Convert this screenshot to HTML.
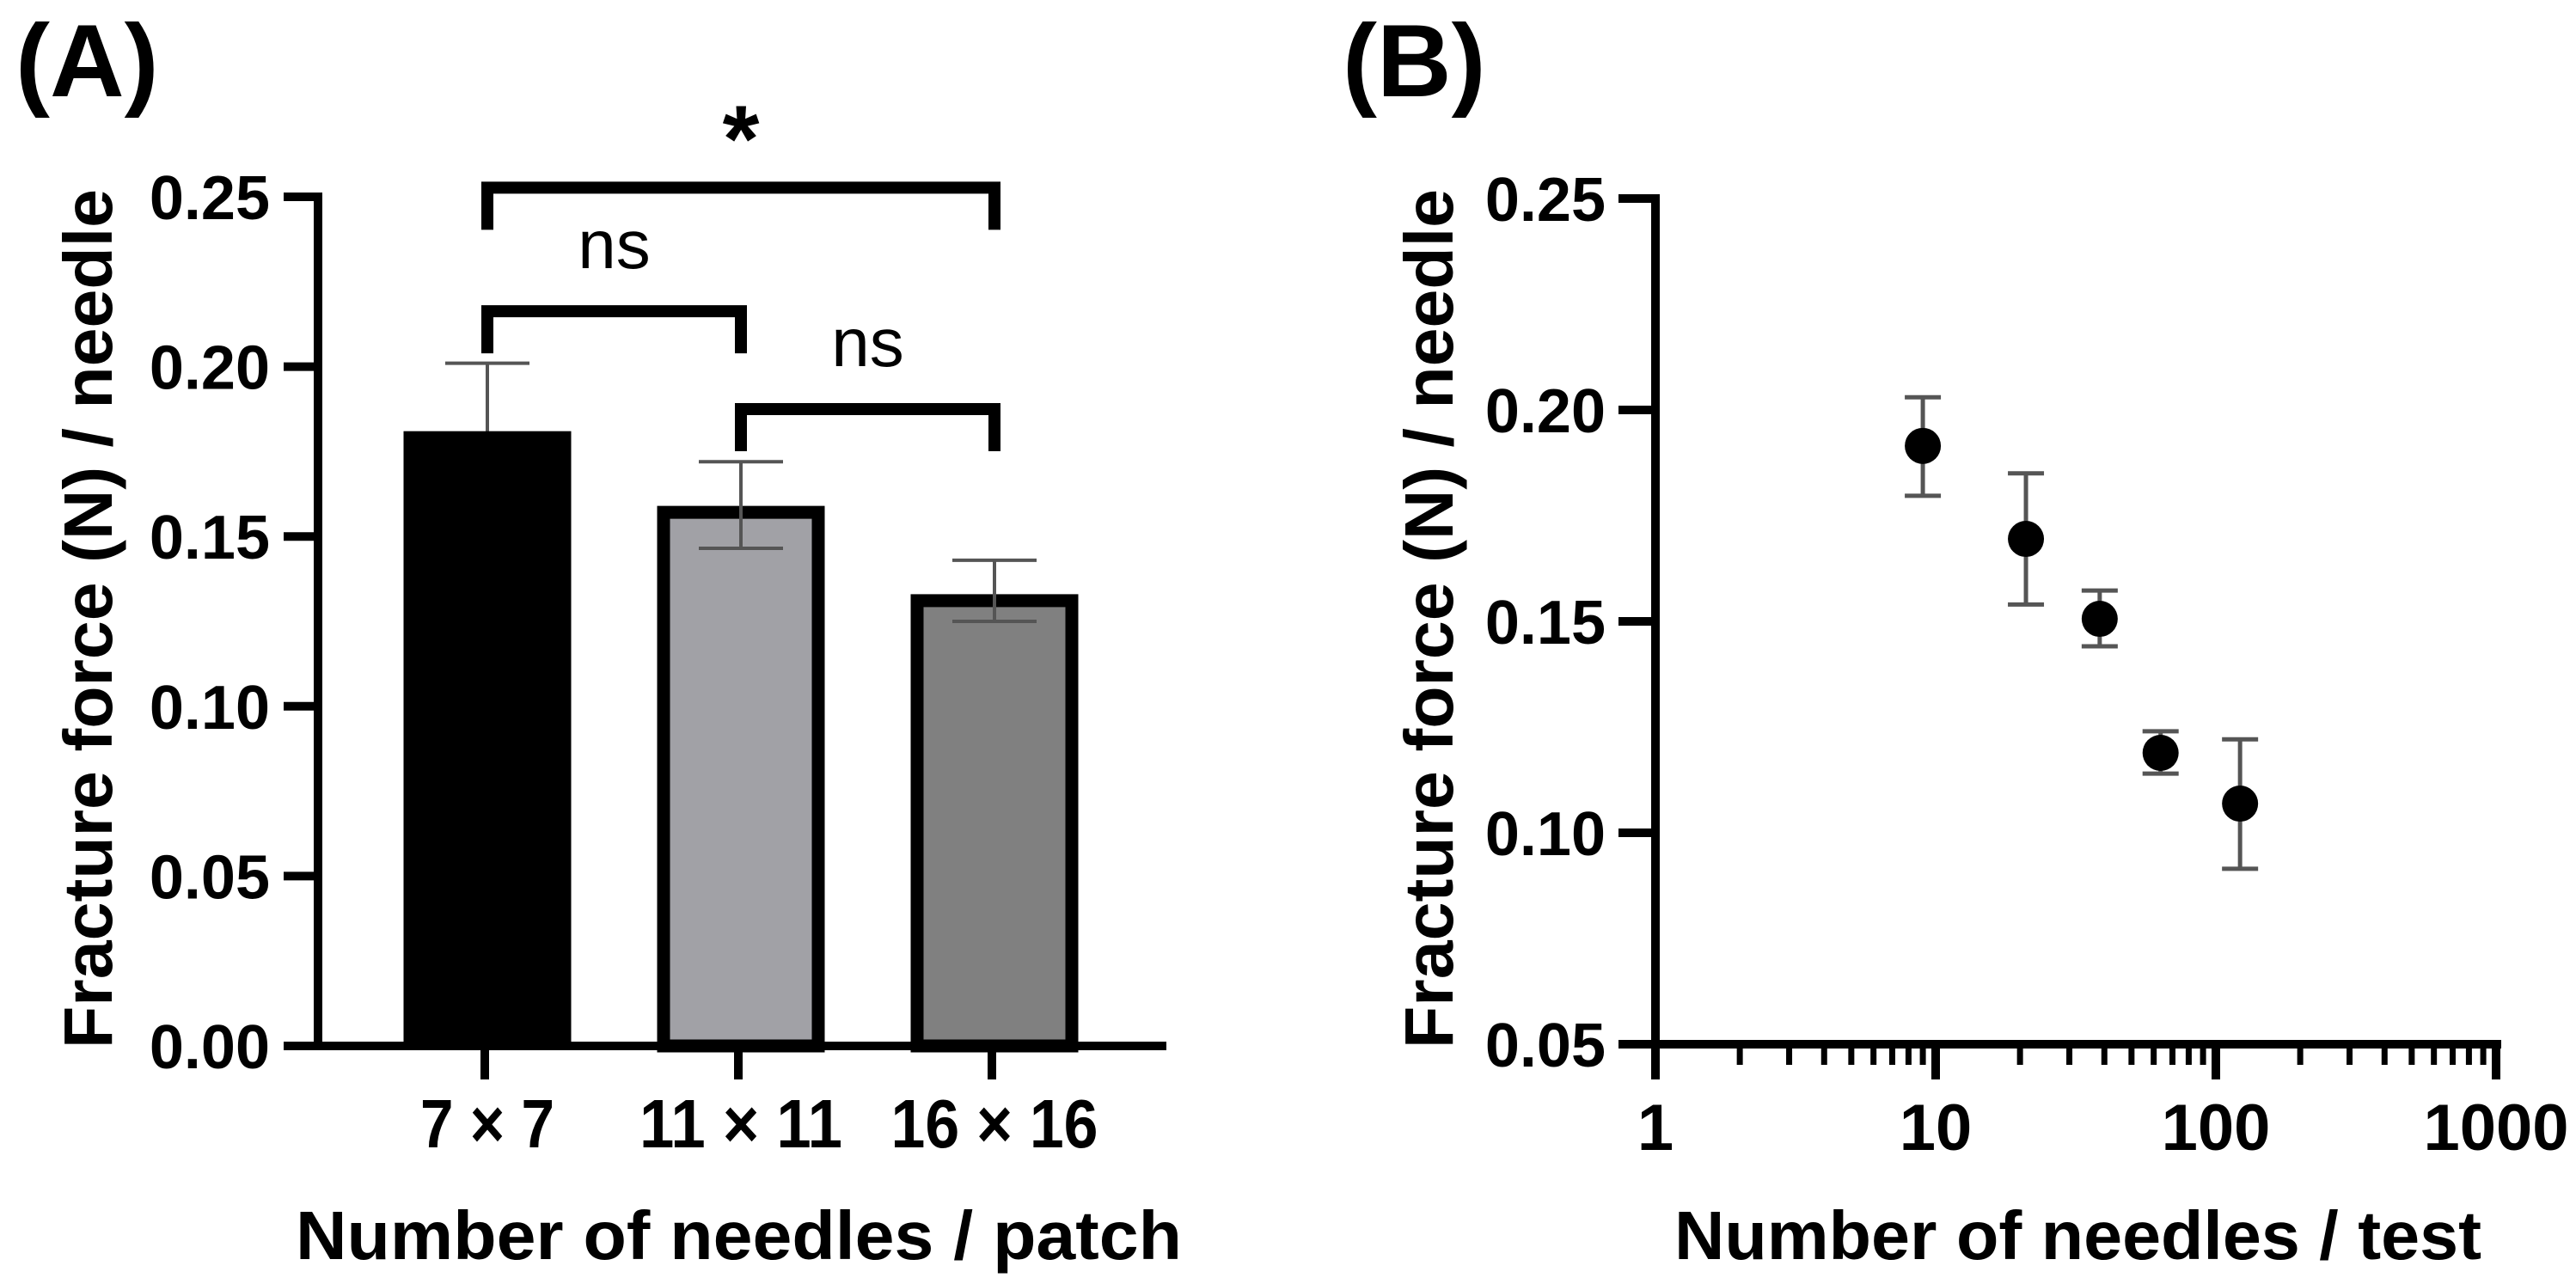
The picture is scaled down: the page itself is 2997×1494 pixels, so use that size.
<!DOCTYPE html>
<html><head><meta charset="utf-8"><style>
html,body{margin:0;padding:0;background:#fff;}
svg{display:block;font-family:"Liberation Sans",Arial,sans-serif;}
</style></head><body>
<svg id="fig" width="2997" height="1494" viewBox="0 0 2997 1494" xmlns="http://www.w3.org/2000/svg">
<text x="18" y="112" font-size="120" font-weight="bold">(A)</text>
<text x="1562" y="112" font-size="120" font-weight="bold">(B)</text>
<g id="pa"></g>
<g id="pb"></g>
<text transform="translate(130,720) rotate(-90)" text-anchor="middle" font-size="80" font-weight="bold" textLength="1000" lengthAdjust="spacingAndGlyphs">Fracture force (N) / needle</text>
<text transform="translate(1690,720) rotate(-90)" text-anchor="middle" font-size="80" font-weight="bold" textLength="1000" lengthAdjust="spacingAndGlyphs">Fracture force (N) / needle</text>
<text x="344" y="1465" font-size="80" font-weight="bold" textLength="1031" lengthAdjust="spacingAndGlyphs">Number of  needles / patch</text>
<text x="1948" y="1465" font-size="80" font-weight="bold" textLength="939" lengthAdjust="spacingAndGlyphs">Number of needles / test</text>
</svg>
<script>
// Panel A data
const catsA = ["7 × 7", "11 × 11", "16 × 16"];
const meansA = [0.181, 0.159, 0.133];
const upperA = [0.201, 0.172, 0.143];
const lowerA = [0.162, 0.1465, 0.125];
const fillsA = ["#000000", "#a1a1a6", "#808080"];
const ticksA = [0.00, 0.05, 0.10, 0.15, 0.20, 0.25];
const tickLabelsA = ["0.00", "0.05", "0.10", "0.15", "0.20", "0.25"];
const bracketPairs = [[0, 2], [0, 1], [1, 2]];
const bracketLevels = [0.2527, 0.2163, 0.1875];
const bracketLabels = ["*", "ns", "ns"];
// Panel B data
const xsB = [9, 21, 38.5, 63.5, 122];
const meansB = [0.1915, 0.1695, 0.1506, 0.1189, 0.1069];
const upperB = [0.203, 0.185, 0.1573, 0.124, 0.1221];
const lowerB = [0.1797, 0.154, 0.1441, 0.114, 0.0915];
const ticksB = [0.05, 0.10, 0.15, 0.20, 0.25];
const tickLabelsB = ["0.05", "0.10", "0.15", "0.20", "0.25"];
const decadesB = [1, 10, 100, 1000];
const decadeLabelsB = ["1", "10", "100", "1000"];

const NS = "http://www.w3.org/2000/svg";
function mk(parent, tag, attrs, text) {
  const e = document.createElementNS(NS, tag);
  for (const k in attrs) e.setAttribute(k, attrs[k]);
  if (text !== undefined) e.textContent = text;
  parent.appendChild(e);
  return e;
}

// ---- Panel A ----
const pa = document.getElementById("pa");
const yA = v => 1217 - v * 3952;
const xA = i => 567 + i * 295;
const bw = 195;
const errBehind = mk(pa, "g", {});


for (let i = 0; i < catsA.length; i++) {
  const sw = i === 0 ? 0 : 15;
  const r = mk(pa, "rect", {x: xA(i) - bw / 2 + sw / 2, y: yA(meansA[i]) + sw / 2, width: bw - sw, height: yA(0) - yA(meansA[i]) - sw / 2, fill: fillsA[i], stroke: "#000", "stroke-width": sw});
  
  
}
for (let i = 0; i < catsA.length; i++) {
  const parent = fillsA[i] === "#000000" ? errBehind : pa;
  const g = mk(parent, "g", {stroke: "#555", "stroke-width": 4});
  
  
  mk(g, "line", {x1: xA(i), x2: xA(i), y1: yA(upperA[i]), y2: yA(lowerA[i])});
  mk(g, "line", {x1: xA(i) - 49, x2: xA(i) + 49, y1: yA(upperA[i]), y2: yA(upperA[i])});
  mk(g, "line", {x1: xA(i) - 49, x2: xA(i) + 49, y1: yA(lowerA[i]), y2: yA(lowerA[i])});
}
// axes A
const axA = mk(pa, "g", {stroke: "#000", "stroke-width": 10});


mk(axA, "line", {x1: 370, x2: 370, y1: yA(0.25) - 5, y2: 1222});
mk(axA, "line", {x1: 365, x2: 1357, y1: 1217, y2: 1217});
for (let i = 0; i < ticksA.length; i++) {
  mk(axA, "line", {x1: 330, x2: 370, y1: yA(ticksA[i]), y2: yA(ticksA[i])});
  const t = mk(pa, "text", {x: 314, y: yA(ticksA[i]) + 26, "text-anchor": "end", "font-size": 72, "font-weight": "bold"}, tickLabelsA[i]);
  
  
}
const lenA = [156, 236, 241];
for (let i = 0; i < catsA.length; i++) {
  mk(axA, "line", {x1: xA(i) - 3, x2: xA(i) - 3, y1: 1217, y2: 1256});
  const t = mk(pa, "text", {x: xA(i), y: 1335, "text-anchor": "middle", "font-size": 80, "font-weight": "bold", textLength: lenA[i], lengthAdjust: "spacingAndGlyphs"}, catsA[i]);
  
  
}
// brackets
for (let k = 0; k < bracketPairs.length; k++) {
  const [a, b] = bracketPairs[k];
  const yb = yA(bracketLevels[k]);
  const g = mk(pa, "g", {});
  
  
  mk(g, "path", {d: `M${xA(a)},${yb + 49} V${yb} H${xA(b)} V${yb + 49}`, fill: "none", stroke: "#000", "stroke-width": 14, "stroke-linejoin": "miter"});
  const mid = (xA(a) + xA(b)) / 2;
  if (bracketLabels[k] === "*") {
    mk(g, "text", {x: mid, y: yb - 19, "text-anchor": "middle", "font-size": 110, "font-weight": "bold"}, "*");
  } else {
    mk(g, "text", {x: mid, y: yb - 50, "text-anchor": "middle", "font-size": 80}, bracketLabels[k]);
  }
}

// ---- Panel B ----
const pb = document.getElementById("pb");
const yB = v => 231 + (0.25 - v) * 4920;
const xB = v => 1926 + Math.log10(v) * 326;
const axB = mk(pb, "g", {stroke: "#000", "stroke-width": 10});


mk(axB, "line", {x1: 1926, x2: 1926, y1: yB(0.25) - 5, y2: 1256});
mk(axB, "line", {x1: 1921, x2: 2910, y1: 1215, y2: 1215});
for (let i = 0; i < ticksB.length; i++) {
  mk(axB, "line", {x1: 1883, x2: 1926, y1: yB(ticksB[i]), y2: yB(ticksB[i])});
  const t = mk(pb, "text", {x: 1868, y: yB(ticksB[i]) + 26, "text-anchor": "end", "font-size": 72, "font-weight": "bold"}, tickLabelsB[i]);
  
  
}
for (let d = 0; d < decadesB.length; d++) {
  const x = xB(decadesB[d]);
  mk(axB, "line", {x1: x, x2: x, y1: 1215, y2: 1256});
  const t = mk(pb, "text", {x: x, y: 1338, "text-anchor": "middle", "font-size": 76, "font-weight": "bold"}, decadeLabelsB[d]);
  
  
  if (d < decadesB.length - 1) {
    for (let m = 2; m <= 9; m++) {
      const xm = xB(decadesB[d] * m);
      mk(axB, "line", {x1: xm, x2: xm, y1: 1215, y2: 1239, "stroke-width": 7});
    }
  }
}
for (let i = 0; i < xsB.length; i++) {
  const x = xB(xsB[i]);
  const g = mk(pb, "g", {});
  
  
  const e = mk(g, "g", {stroke: "#555", "stroke-width": 5});
  mk(e, "line", {x1: x, x2: x, y1: yB(upperB[i]), y2: yB(lowerB[i])});
  mk(e, "line", {x1: x - 21, x2: x + 21, y1: yB(upperB[i]), y2: yB(upperB[i])});
  mk(e, "line", {x1: x - 21, x2: x + 21, y1: yB(lowerB[i]), y2: yB(lowerB[i])});
  mk(g, "circle", {cx: x, cy: yB(meansB[i]), r: 21, fill: "#000"});
}
</script>
</body></html>
